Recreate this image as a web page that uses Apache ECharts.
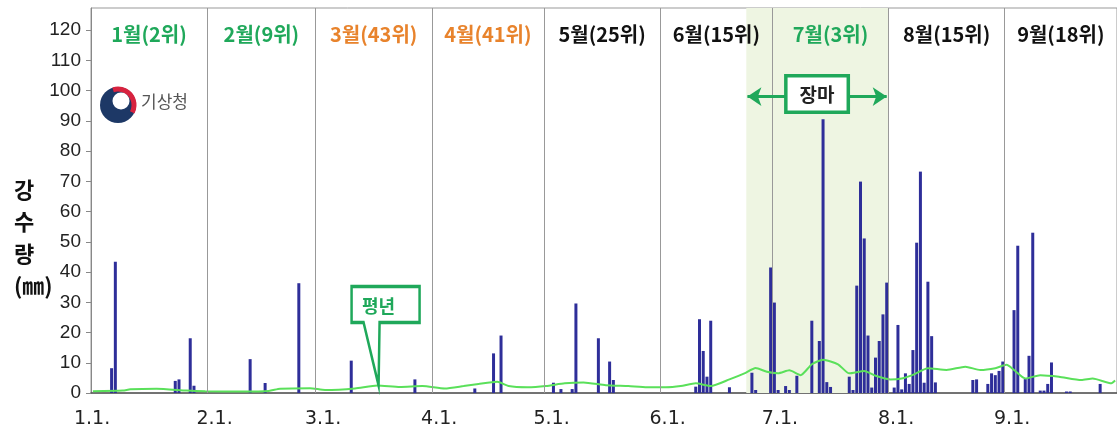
<!DOCTYPE html>
<html>
<head>
<meta charset="utf-8">
<script src="https://cdn.jsdelivr.net/npm/echarts@6/dist/echarts.min.js"></script>
<style>
  html, body { margin: 0; padding: 0; background: #fff; }
  #chart { width: 1117px; height: 431px; }
</style>
</head>
<body>
<div id="chart"></div>
<script>
// 2020 (leap year) day-of-year for the 1st of each month, Jan..Sep
var monthStarts = [0, 31, 60, 91, 121, 152, 182, 213, 244];
var monthTicks = ['1.1.', '2.1.', '3.1.', '4.1.', '5.1.', '6.1.', '7.1.', '8.1.', '9.1.'];
var monthNames = ['1월(2위)', '2월(9위)', '3월(43위)', '4월(41위)', '5월(25위)', '6월(15위)', '7월(3위)', '8월(15위)', '9월(18위)'];
var monthColors = ['#1fa85a', '#1fa85a', '#e8832c', '#e8832c', '#111', '#111', '#1fa85a', '#111', '#111'];
var yTicks = [0, 10, 20, 30, 40, 50, 60, 70, 80, 90, 100, 110, 120];

// daily precipitation (mm)
var rainDates = ['1.6', '1.7', '1.23', '1.24', '1.27', '1.28',
  '2.12', '2.16', '2.25',
  '3.10', '3.27',
  '4.12', '4.17', '4.19',
  '5.3', '5.5', '5.8', '5.9', '5.15', '5.18', '5.19',
  '6.10', '6.11', '6.12', '6.13', '6.14', '6.19', '6.25', '6.26', '6.30',
  '7.1', '7.2', '7.4', '7.5', '7.7', '7.11', '7.13', '7.14', '7.15', '7.16', '7.21', '7.22',
  '7.23', '7.24', '7.25', '7.26', '7.27', '7.28', '7.29', '7.30', '7.31',
  '8.2', '8.3', '8.4', '8.5', '8.6', '8.7', '8.8', '8.9', '8.10', '8.11', '8.12', '8.13',
  '8.23', '8.24', '8.27', '8.28', '8.29', '8.30', '8.31',
  '9.3', '9.4', '9.6', '9.7', '9.8', '9.10', '9.11', '9.12', '9.13', '9.17', '9.18', '9.26'];
var rainMm = [8.2, 43.4, 4.0, 4.5, 18.1, 2.4,
  11.2, 3.3, 36.3,
  10.7, 4.5,
  1.5, 13.1, 19.0,
  3.4, 1.3, 1.3, 29.6, 18.1, 10.4, 4.3,
  2.1, 24.4, 13.9, 5.4, 23.9, 1.9, 6.7, 1.0, 41.5,
  29.9, 1.0, 2.3, 1.0, 5.7, 23.9, 17.2, 90.5, 3.6, 2.0, 5.4, 1.0,
  35.5, 69.9, 51.1, 19.0, 1.8, 11.7, 17.2, 26.0, 36.5,
  1.8, 22.5, 1.2, 6.5, 3.0, 14.2, 49.7, 73.2, 3.4, 36.8, 18.8, 3.5,
  4.3, 4.5, 3.0, 6.5, 5.9, 7.3, 10.4,
  27.4, 48.7, 4.6, 12.3, 53.0, 0.8, 0.8, 3.0, 10.1, 0.5, 0.5, 3.0];

// 평년 (normal) daily precipitation, mm
var normalDates = ['1.1', '1.9', '1.11', '1.18', '1.26', '1.31', '2.10', '2.17', '2.20', '2.28',
  '3.3', '3.11', '3.17', '3.23', '3.29', '4.4', '4.9', '4.13', '4.18', '4.21', '4.26',
  '5.1', '5.6', '5.11', '5.17', '5.23', '5.28', '6.2', '6.6', '6.10', '6.14', '6.19', '6.23',
  '6.26', '6.29', '7.2', '7.5', '7.8', '7.11', '7.14', '7.18', '7.21', '7.25', '7.28',
  '8.1', '8.4', '8.7', '8.11', '8.16', '8.21', '8.25', '8.29', '9.1', '9.3', '9.6', '9.10',
  '9.15', '9.21', '9.24', '9.29', '9.30'];
var normalMm = [0.6, 0.8, 1.2, 1.4, 0.8, 0.6, 0.5, 0.7, 1.4, 1.6,
  1.0, 1.5, 2.5, 2.0, 2.3, 1.5, 2.3, 3.0, 3.7, 2.3, 1.9,
  2.3, 3.2, 3.5, 2.6, 2.3, 1.9, 1.9, 2.3, 3.2, 2.3, 4.5, 6.5,
  8.3, 7.0, 6.5, 7.5, 5.9, 9.5, 11.0, 9.5, 6.5, 7.3, 5.7,
  4.5, 4.8, 6.0, 8.2, 7.6, 8.7, 7.6, 8.2, 9.3, 7.6, 4.8, 5.9,
  5.4, 4.3, 4.8, 3.2, 4.1];

var monsoonStart = '6.24';
var monsoonEnd = '8.1';
var lastDay = 274;

var green = '#1fa85a';

function dayOf(s) {
  var p = s.split('.');
  return monthStarts[+p[0] - 1] + (+p[1]) - 1;
}

var chart = echarts.init(document.getElementById('chart'));

var barData = rainDates.map(function (s, i) { return [dayOf(s) + 0.5, rainMm[i]]; });
var normalData = normalDates.map(function (s, i) { return [dayOf(s) + 0.5, normalMm[i]]; });

// month label areas + 장마 shading
var areas = [[{ xAxis: dayOf(monsoonStart), itemStyle: { color: '#eef5e2' }, label: { show: false } },
  { xAxis: dayOf(monsoonEnd) }]];
monthNames.forEach(function (n, i) {
  areas.push([{
    name: n, xAxis: monthStarts[i],
    itemStyle: { color: 'rgba(0,0,0,0)' },
    label: { color: monthColors[i] }
  }, { xAxis: i + 1 < monthStarts.length ? monthStarts[i + 1] : lastDay }]);
});

var calloutPath = 'path://M0,0 L68,0 L68,36 L28,36 L27,99 L12,36 L0,36 Z';

var option = {
  animation: false,
  grid: { left: 91, right: -2, top: 8, bottom: 38, show: true, borderColor: '#999', borderWidth: 1 },
  xAxis: {
    type: 'value', min: 0, max: lastDay,
    splitLine: { show: false },
    axisLine: { lineStyle: { color: '#555', width: 1.5 } },
    axisTick: { show: false },
    axisLabel: {
      customValues: monthStarts.map(function (d) { return d === 0 ? 0.3 : d + 2; }),
      formatter: function (v) {
        for (var i = 0; i < monthStarts.length; i++) {
          if (Math.abs(v - monthStarts[i]) < 3) return monthTicks[i];
        }
        return '';
      },
      fontFamily: 'DejaVu Sans', fontSize: 19, color: '#222', margin: 17
    }
  },
  yAxis: {
    type: 'value', min: 0, max: 127.3,
    splitLine: { show: false },
    axisLine: { show: true, lineStyle: { color: '#888' } },
    axisTick: { show: true, customValues: yTicks, length: 5, lineStyle: { color: '#888' } },
    axisLabel: { customValues: yTicks, fontFamily: 'Liberation Sans', fontSize: 19, color: '#222', margin: 10 }
  },
  series: [
    {
      type: 'scatter', data: [], z: 1, silent: true,
      markArea: {
        silent: true,
        label: {
          show: true, position: 'insideTop', distance: 16, formatter: '{b}',
          fontFamily: 'Noto Sans CJK KR', fontSize: 20, fontWeight: 'bold'
        },
        data: areas
      },
      markLine: {
        silent: true, symbol: 'none', label: { show: false },
        lineStyle: { color: '#999', width: 1, type: 'solid' },
        data: monthStarts.slice(1).map(function (d) { return { xAxis: d }; })
      }
    },
    {
      type: 'bar', data: barData, barWidth: 3, z: 2,
      itemStyle: { color: '#2e2e99' }
    },
    {
      type: 'line', data: normalData, z: 3, symbol: 'none', smooth: 0.2,
      lineStyle: { color: '#5ae05a', width: 2 }
    },
    {
      type: 'scatter', data: [], z: 5, silent: true,
      markLine: {
        silent: true, symbol: ['arrow', 'arrow'], symbolSize: [14, 14],
        lineStyle: { color: green, width: 3, type: 'solid' },
        label: {
          show: true, position: 'middle', distance: -14, formatter: '장마',
          backgroundColor: '#fff', borderColor: green, borderWidth: 3.5,
          padding: [8, 12, 6, 12], color: '#222',
          fontFamily: 'Noto Sans CJK KR', fontSize: 19, fontWeight: 'bold'
        },
        data: [[{ coord: [dayOf(monsoonStart) + 0.3, 98] }, { coord: [dayOf(monsoonEnd) - 0.5, 98] }]]
      },
      markPoint: {
        silent: true,
        symbol: calloutPath, symbolSize: [68, 99], symbolOffset: [7, -49.5],
        itemStyle: { color: '#fff', borderColor: green, borderWidth: 3 },
        label: {
          show: true, position: 'inside', offset: [-7, -30], formatter: '평년',
          color: green, fontFamily: 'Noto Sans CJK KR', fontSize: 18, fontWeight: 'bold'
        },
        data: [{ coord: [dayOf('3.17') + 0.8, 2.5] }]
      }
    }
  ],
  graphic: [
    {
      type: 'text', left: 14, top: 174,
      style: {
        text: '강\n수\n량\n(㎜)', fill: '#111', align: 'center',
        font: 'bold 22px "Noto Sans CJK KR"', lineHeight: 32
      }
    },
    { type: 'circle', shape: { cx: 118, cy: 105, r: 18 }, style: { fill: '#1d3866' } },
    { type: 'arc', shape: { cx: 118, cy: 105, r: 16, startAngle: -Math.PI * 0.6, endAngle: Math.PI * 0.15 },
      style: { stroke: '#d7233f', lineWidth: 5, fill: null } },
    { type: 'circle', shape: { cx: 121, cy: 101, r: 8.5 }, style: { fill: '#fff' } },
    {
      type: 'text', left: 141, top: 93,
      style: { text: '기상청', fill: '#555', font: '17px "Noto Sans CJK KR"' }
    }
  ]
};

chart.setOption(option);
</script>
</body>
</html>
